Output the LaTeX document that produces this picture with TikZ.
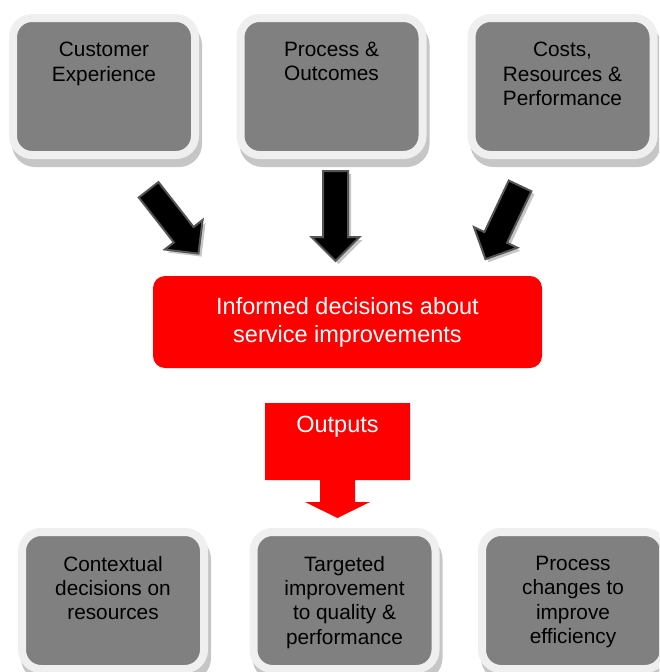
\documentclass[tikz,border=0pt]{standalone}
\usepackage{fontspec}
\setmainfont{Liberation Sans}
\usetikzlibrary{shapes.arrows}
\usetikzlibrary{positioning}

\definecolor{boxgray}{HTML}{808080}
\definecolor{framegray}{HTML}{EFEFEF}
\definecolor{shadegray}{HTML}{C6C6C6}
\definecolor{edgegray}{HTML}{555555}

\tikzset{
  panel/.style={draw=framegray,line width=8pt,fill=boxgray,
    rounded corners=19pt,minimum width=182pt,minimum height=137pt,
    inner sep=0pt,outer sep=0pt,
    preaction={draw=shadegray,fill=shadegray,line width=8pt,
      transform canvas={xshift=3pt,yshift=-8pt}}},
  paneltext/.style={anchor=north,align=center,inner sep=0pt,
    font=\fontsize{20.8}{24.3}\selectfont},
  blockarrow/.style={single arrow,draw=edgegray,line width=2pt,fill=black,
    single arrow head extend=11.5pt,single arrow head indent=0pt,
    inner xsep=0pt,inner ysep=11.5pt,anchor=tail,
    preaction={fill=shadegray,transform canvas={xshift=3pt,yshift=-3pt}}},
  redtext/.style={text=white,align=center,font=\fontsize{23.5}{28}\selectfont},
}

\begin{document}
\begin{tikzpicture}[x=1pt,y=-1pt]
\useasboundingbox (0,0) rectangle (659,672);
\clip (0,0) rectangle (659,672);

% sources
\node[panel](S1)at(104,86.5){};
\node[panel](S2)at(331.5,86.5){};
\node[panel](S3)at(562.5,86.5){};
\node[paneltext](S1t)at([yshift=-24pt]S1.north){Customer\\Experience};
\node[paneltext](S2t)at([yshift=-24pt]S2.north){Process \&\\Outcomes};
\node[paneltext](S3t)at([yshift=-24pt]S3.north){Costs,\\Resources \&\\Performance};

% black arrows into the decision box
\node[blockarrow,minimum height=81pt,rotate=-52](A1)at(148,189){};
\node[blockarrow,minimum height=90pt,rotate=-90](A2)at(335.5,170){};
\node[blockarrow,minimum height=81pt,rotate=-115.3](A3)at(520.5,185){};

\node[fill=red,rounded corners=12pt,minimum width=389pt,minimum height=92pt,
inner sep=0pt,redtext](D)at(347.5,322){Informed decisions about\\service improvements};

% outputs arrow
\fill[red](265,403)--(410,403)--(410,480)--(355,480)--(355,502)--(370,502)
--(337.5,518)--(305,502)--(320,502)--(320,480)--(265,480)--cycle;
\node[redtext,inner sep=0pt](O)at(337.5,427){Outputs};

% results
\node[panel](R1)at(113,600.5){};
\node[panel](R2)at(344.5,600.5){};
\node[panel](R3)at(573,600.5){};
\node[paneltext](R1t)at([yshift=-24pt]R1.north){Contextual\\decisions on\\resources};
\node[paneltext](R2t)at([yshift=-24pt]R2.north){Targeted\\improvement\\to quality \&\\performance};
\node[paneltext](R3t)at([yshift=-24pt]R3.north){Process\\changes to\\improve\\efficiency};
\end{tikzpicture}
\end{document}
